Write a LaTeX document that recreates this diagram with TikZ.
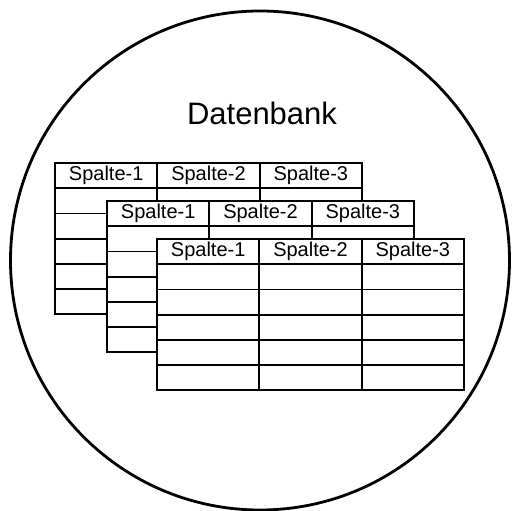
\documentclass[tikz,border=0pt]{standalone}
\usepackage{fontspec}
\setmainfont{Liberation Sans}

\tikzset{
  dbring/.style={line width=2.8pt},
  tabframe/.style={line width=2pt, fill=white},
  tabline/.style={line width=1.8pt},
  headtext/.style={font=\fontsize{20}{20}\selectfont, inner sep=0pt},
  dbtitle/.style={font=\fontsize{31}{31}\selectfont, inner sep=0pt}
}

\begin{document}
\begin{tikzpicture}[x=1pt, y=-1pt]
            \useasboundingbox (0, 0) rectangle (512, 511);
            \draw[dbring] (260, 260.5) circle (249.5);
            \node[dbtitle] (title) at (262, 113) {Datenbank};
            % erste Tabelle
            \begin{scope}[shift={(55, 163)}]
                \filldraw[tabframe] (0, 0) rectangle (307, 151);
                \draw[tabline] (0, 25.2)--(307, 25.2);
                \draw[tabline] (0, 50.4)--(307, 50.4);
                \draw[tabline] (0, 75.6)--(307, 75.6);
                \draw[tabline] (0, 100.8)--(307, 100.8);
                \draw[tabline] (0, 126)--(307, 126);
                \draw[tabline] (102.3, 0)--(102.3, 151);
                \draw[tabline] (204.7, 0)--(204.7, 151);
                \node[headtext] (t1s1) at (51.2, 12.6) {Spalte-1};
                \node[headtext] (t1s2) at (153.5, 12.6) {Spalte-2};
                \node[headtext] (t1s3) at (255.8, 12.6) {Spalte-3};
            \end{scope}
            % zweite Tabelle
            \begin{scope}[shift={(107, 201)}]
                \filldraw[tabframe] (0, 0) rectangle (307, 151);
                \draw[tabline] (0, 25.2)--(307, 25.2);
                \draw[tabline] (0, 50.4)--(307, 50.4);
                \draw[tabline] (0, 75.6)--(307, 75.6);
                \draw[tabline] (0, 100.8)--(307, 100.8);
                \draw[tabline] (0, 126)--(307, 126);
                \draw[tabline] (102.3, 0)--(102.3, 151);
                \draw[tabline] (204.7, 0)--(204.7, 151);
                \node[headtext] (t2s1) at (51.2, 12.6) {Spalte-1};
                \node[headtext] (t2s2) at (153.5, 12.6) {Spalte-2};
                \node[headtext] (t2s3) at (255.8, 12.6) {Spalte-3};
            \end{scope}
            % dritte Tabelle
            \begin{scope}[shift={(157, 239)}]
                \filldraw[tabframe] (0, 0) rectangle (307, 151);
                \draw[tabline] (0, 25.2)--(307, 25.2);
                \draw[tabline] (0, 50.4)--(307, 50.4);
                \draw[tabline] (0, 75.6)--(307, 75.6);
                \draw[tabline] (0, 100.8)--(307, 100.8);
                \draw[tabline] (0, 126)--(307, 126);
                \draw[tabline] (102.3, 0)--(102.3, 151);
                \draw[tabline] (204.7, 0)--(204.7, 151);
                \node[headtext] (t3s1) at (51.2, 12.6) {Spalte-1};
                \node[headtext] (t3s2) at (153.5, 12.6) {Spalte-2};
                \node[headtext] (t3s3) at (255.8, 12.6) {Spalte-3};
            \end{scope}
        \end{tikzpicture}
\end{document}
